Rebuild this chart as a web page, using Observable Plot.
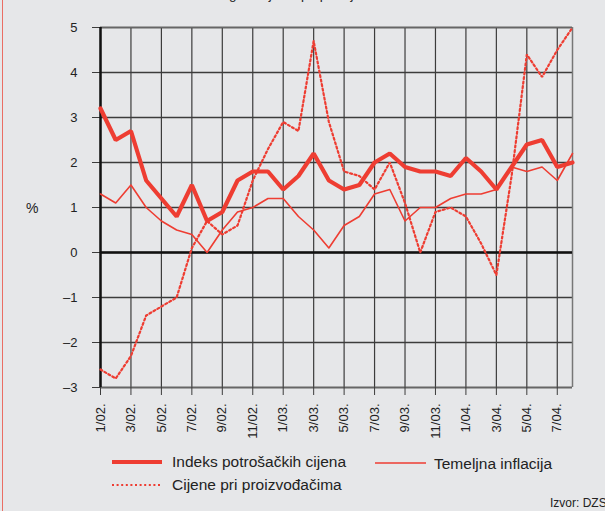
<!DOCTYPE html>
<html>
<head>
<meta charset="utf-8">
<script src="https://cdn.jsdelivr.net/npm/d3@7"></script>
<script src="https://cdn.jsdelivr.net/npm/@observablehq/plot@0.6"></script>
<style>
  html, body { margin: 0; padding: 0; }
  body { width: 605px; height: 511px; overflow: hidden; position: relative; background: #e6e7e9;
         font-family: "Liberation Sans", Arial, sans-serif; color: #222; }
  #chart { position: absolute; left: 0; top: 0; }
  .abs { position: absolute; white-space: nowrap; }
  .leg { font-size: 15.5px; line-height: 18px; }
</style>
</head>
<body>
<div class="abs" style="left:2px;top:0;width:1px;height:511px;background:#ea6e64;"></div>
<div class="abs" id="title" style="left:0;width:605px;top:-13px;text-align:center;font-size:13.5px;line-height:15px;">godišnje stope promjene</div>
<div id="chart"></div>
<div class="abs" style="left:26px;top:200px;font-size:14px;line-height:16px;">%</div>
<svg class="abs" style="left:0;top:0;" width="605" height="511" id="legsw"></svg>
<div class="abs leg" style="left:172px;top:453px;">Indeks potrošačkih cijena</div>
<div class="abs leg" style="left:434px;top:455px;">Temeljna inflacija</div>
<div class="abs leg" style="left:172px;top:476px;">Cijene pri proizvođačima</div>
<div class="abs" style="left:550px;top:496px;font-size:12px;line-height:14px;">Izvor: DZS</div>
<script>
const monthLabels = ["1/02.","2/02.","3/02.","4/02.","5/02.","6/02.","7/02.","8/02.","9/02.","10/02.","11/02.","12/02.",
                     "1/03.","2/03.","3/03.","4/03.","5/03.","6/03.","7/03.","8/03.","9/03.","10/03.","11/03.","12/03.",
                     "1/04.","2/04.","3/04.","4/04.","5/04.","6/04.","7/04.","8/04."];
const xTickLabels = ["1/02.","3/02.","5/02.","7/02.","9/02.","11/02.","1/03.","3/03.","5/03.","7/03.","9/03.","11/03.","1/04.","3/04.","5/04.","7/04."];
const yTicks = [-3,-2,-1,0,1,2,3,4,5];

const cpi  = [3.2,2.5,2.7,1.6,1.2,0.8,1.5,0.7,0.9,1.6,1.8,1.8,1.4,1.7,2.2,1.6,1.4,1.5,2.0,2.2,1.9,1.8,1.8,1.7,2.1,1.8,1.4,1.9,2.4,2.5,1.9,2.0];
const core = [1.3,1.1,1.5,1.0,0.7,0.5,0.4,0.0,0.5,0.9,1.0,1.2,1.2,0.8,0.5,0.1,0.6,0.8,1.3,1.4,0.7,1.0,1.0,1.2,1.3,1.3,1.4,1.9,1.8,1.9,1.6,2.2];
const ppi  = [-2.6,-2.8,-2.3,-1.4,-1.2,-1.0,0.1,0.7,0.4,0.6,1.6,2.3,2.9,2.7,4.7,2.9,1.8,1.7,1.4,2.0,1.1,0.0,0.9,1.0,0.8,0.2,-0.5,1.7,4.4,3.9,4.5,5.0];

const red = "#ee3d32";
const data = monthLabels.map((m, i) => ({i, m, cpi: cpi[i], core: core[i], ppi: ppi[i]}));
const tickIdx = xTickLabels.map(l => monthLabels.indexOf(l));
const lastIdx = monthLabels.length - 1;
const yMin = d3.min(yTicks), yMax = d3.max(yTicks);
const gridColor = "#3c3c3c";

const chart = Plot.plot({
  width: 605, height: 445,
  marginLeft: 100, marginRight: 33, marginTop: 27, marginBottom: 58,
  style: {background: "transparent", fontFamily: "'Liberation Sans', Arial, sans-serif", color: "#222", overflow: "visible"},
  x: {domain: [0, lastIdx], axis: null},
  y: {domain: [yMin, yMax], axis: null},
  marks: [
    Plot.ruleY(yTicks, {x1: 0, x2: lastIdx, stroke: gridColor, strokeWidth: 1.3}),
    Plot.ruleX(tickIdx, {y1: yMin, y2: yMax, stroke: gridColor, strokeWidth: 1.2}),
    Plot.ruleX([lastIdx], {y1: yMin, y2: yMax, stroke: "#777", strokeWidth: 1.5}),
    Plot.ruleY([yMax, yMin], {x1: 0, x2: lastIdx, stroke: "#666", strokeWidth: 1.5}),
    Plot.axisY({ticks: yTicks, tickSize: 8, tickPadding: 15, fontSize: 13, stroke: gridColor, fill: "#222",
                label: null, tickFormat: d => d < 0 ? "\u2013" + Math.abs(d) : String(d)}),
    Plot.axisX({ticks: tickIdx, tickSize: 8, tickPadding: 8, tickRotate: -90, fontSize: 13, stroke: gridColor, fill: "#222",
                label: null, tickFormat: i => monthLabels[i]}),
    Plot.ruleY([0], {x1: 0, x2: lastIdx, stroke: "#111", strokeWidth: 2.5}),
    Plot.ruleX([0], {y1: yMin, y2: yMax, stroke: "#111", strokeWidth: 2.5}),
    Plot.line(data, {x: "i", y: "core", stroke: red, strokeWidth: 1.6}),
    Plot.line(data, {x: "i", y: "ppi", stroke: red, strokeWidth: 2.2, strokeDasharray: "2,2.6", strokeLinejoin: "miter"}),
    Plot.line(data, {x: "i", y: "cpi", stroke: red, strokeWidth: 4.2, strokeLinejoin: "miter"})
  ]
});
document.getElementById("chart").appendChild(chart);

// legend swatches
const sw = d3.select("#legsw");
sw.append("line").attr("x1", 112).attr("x2", 162).attr("y1", 462).attr("y2", 462).attr("stroke", red).attr("stroke-width", 4.2);
sw.append("line").attr("x1", 375).attr("x2", 426).attr("y1", 463).attr("y2", 463).attr("stroke", red).attr("stroke-width", 1.6);
sw.append("line").attr("x1", 112).attr("x2", 162).attr("y1", 485).attr("y2", 485).attr("stroke", red).attr("stroke-width", 2).attr("stroke-dasharray", "2,2.6");
</script>
</body>
</html>
